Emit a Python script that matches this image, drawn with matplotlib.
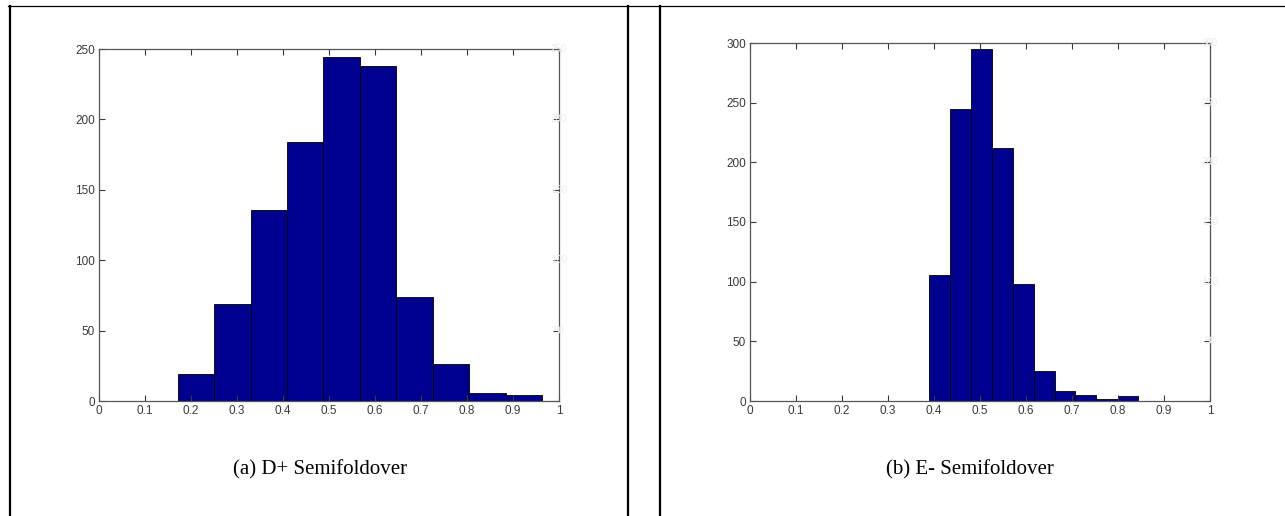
import numpy as np
from matplotlib import pyplot as plt
from matplotlib.lines import Line2D

# (a) D+ Semifoldover
edges_a = [0.172, 0.251, 0.330, 0.409, 0.488, 0.567, 0.646, 0.725, 0.805, 0.884, 0.963]
counts_a = [19, 69, 136, 184, 244, 238, 74, 26, 6, 4]

# (b) E- Semifoldover
edges_b = [0.389, 0.434, 0.480, 0.526, 0.571, 0.617, 0.662, 0.707, 0.753, 0.799, 0.844]
counts_b = [106, 245, 295, 212, 98, 25, 8, 5, 2, 4]

captions = ["(a) D+ Semifoldover", "(b) E- Semifoldover"]
xticks = [0, 0.1, 0.2, 0.3, 0.4, 0.5, 0.6, 0.7, 0.8, 0.9, 1]
xlabels = ["0", "0.1", "0.2", "0.3", "0.4", "0.5", "0.6", "0.7", "0.8", "0.9", "1"]
ymax = [250, 300]


def draw_hist(ax, edges, counts, top):
    edges = np.array(edges)
    ax.bar(edges[:-1], counts, width=np.diff(edges), align='edge',
           color='#00008f', edgecolor='black', linewidth=0.6)
    ax.set_xlim(0, 1)
    ax.set_ylim(0, top)
    ax.set_xticks(xticks)
    ax.set_xticklabels(xlabels)
    ax.set_yticks(np.arange(0, top + 1, 50))
    ax.tick_params(direction='in', top=True, right=True, length=4, width=0.8,
                   labelsize=8.5, colors='#3a3a3a', pad=3)
    for s in ax.spines.values():
        s.set_color('#555555')
        s.set_linewidth(0.9)
    # faint ghost labels on the right side, as in the scan
    for v in np.arange(50, top + 1, 50):
        ax.text(1.0, v, str(int(v)), transform=ax.get_yaxis_transform(),
                ha='center', va='center', fontsize=7, color='#ececec',
                fontfamily='Liberation Sans')


def main():
    plt.rcParams['font.family'] = ['Liberation Sans', 'DejaVu Sans']
    fig = plt.figure(figsize=(12.85, 5.16), dpi=100)

    W, H = 1285.0, 516.0
    ax1 = fig.add_axes([99 / W, 1 - 401 / H, 460 / W, (401 - 49) / H])
    ax2 = fig.add_axes([750 / W, 1 - 401 / H, 460 / W, (401 - 43) / H])

    draw_hist(ax1, edges_a, counts_a, ymax[0])
    draw_hist(ax2, edges_b, counts_b, ymax[1])

    # captions
    fig.text(320 / W, 1 - 470 / H, captions[0], ha='center', va='center',
             fontsize=15, fontfamily='Liberation Serif')
    fig.text(970 / W, 1 - 470 / H, captions[1], ha='center', va='center',
             fontsize=15, fontfamily='Liberation Serif')

    # table frame
    ytop = 1 - 6 / H
    fig.add_artist(Line2D([8 / W, 1285 / W], [ytop, ytop], color='black', lw=0.9))
    for xp in [10, 628, 660]:
        fig.add_artist(Line2D([xp / W, xp / W], [0, ytop], color='black', lw=1.6))

    fig.savefig('out.png', dpi=100, facecolor='white')


main()
